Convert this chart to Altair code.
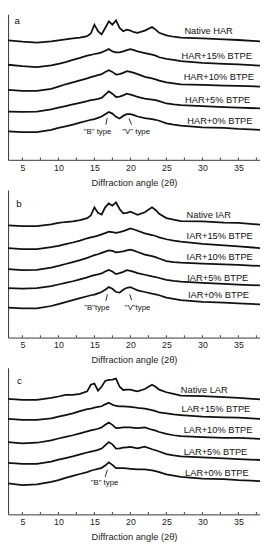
import altair as alt
import pandas as pd

THETA = [3, 5, 7, 9, 10, 11, 12, 13, 14, 14.5, 15, 15.5, 16, 16.5, 17, 17.5, 18, 18.5, 19,
         19.5, 20, 20.5, 21, 22, 23, 23.5, 24, 25, 26, 27, 30, 33, 35, 38]

# Panel a (HAR)
HAR_NATIVE = [367, 363, 360, 364, 367, 370, 373, 375, 380, 388, 415, 395, 385, 405, 425, 415, 428, 405, 395,
              400, 397, 392, 390, 397, 408, 400, 390, 382, 378, 375, 373, 370, 368, 364]
HAR_15 = [292, 288, 285, 290, 295, 300, 307, 313, 320, 322, 325, 327, 330, 335, 340, 333, 330, 330, 333,
          337, 340, 337, 333, 328, 323, 320, 315, 310, 307, 303, 298, 295, 293, 289]
HAR_10 = [215, 212, 212, 218, 225, 232, 238, 244, 250, 254, 257, 260, 263, 270, 275, 270, 262, 263, 267,
          272, 270, 267, 263, 255, 250, 247, 243, 238, 235, 232, 230, 228, 227, 225]
HAR_5 = [148, 147, 148, 155, 160, 165, 170, 175, 180, 183, 185, 187, 190, 200, 210, 203, 193, 194, 198,
         203, 200, 197, 193, 188, 185, 183, 180, 173, 170, 168, 165, 162, 160, 158]
HAR_0 = [87, 85, 85, 92, 98, 103, 108, 114, 120, 123, 125, 129, 133, 140, 147, 142, 132, 127, 135,
         140, 140, 137, 133, 128, 125, 123, 120, 112, 108, 105, 100, 98, 95, 92]

# Panel b (IAR)
IAR_NATIVE = [345, 342, 342, 348, 352, 355, 357, 361, 367, 375, 400, 383, 378, 400, 412, 405, 415, 395, 382,
              383, 387, 382, 377, 385, 400, 392, 380, 367, 362, 358, 357, 353, 352, 347]
IAR_15 = [275, 272, 272, 278, 282, 287, 292, 298, 305, 308, 310, 313, 317, 321, 325, 324, 322, 324, 327,
          331, 335, 332, 328, 320, 315, 312, 308, 302, 298, 295, 288, 283, 280, 275]
IAR_10 = [210, 207, 208, 215, 220, 226, 232, 238, 245, 249, 253, 256, 260, 264, 268, 266, 262, 263, 265,
          268, 270, 267, 263, 255, 250, 247, 243, 235, 232, 230, 227, 225, 223, 220]
IAR_5 = [152, 150, 152, 158, 163, 168, 173, 179, 185, 189, 192, 194, 197, 203, 208, 203, 195, 198, 202,
         207, 205, 202, 198, 193, 188, 186, 183, 177, 174, 172, 168, 165, 163, 160]
IAR_0 = [92, 90, 90, 97, 103, 109, 115, 121, 127, 130, 132, 136, 140, 147, 155, 150, 140, 138, 147,
         153, 155, 150, 145, 140, 135, 133, 130, 123, 119, 115, 110, 107, 105, 102]

# Panel c (LAR)
LAR_NATIVE = [355, 352, 352, 358, 362, 367, 367, 370, 378, 398, 402, 380, 392, 410, 413, 414, 417, 392, 382,
              383, 383, 380, 378, 385, 398, 392, 383, 375, 370, 365, 363, 360, 358, 353]
LAR_15 = [293, 290, 290, 295, 300, 305, 310, 317, 323, 325, 328, 330, 332, 338, 343, 337, 333, 332, 332,
          331, 330, 329, 327, 325, 320, 317, 313, 310, 307, 305, 300, 298, 297, 293]
LAR_10 = [222, 218, 220, 227, 233, 238, 243, 249, 255, 258, 260, 263, 267, 275, 282, 275, 265, 266, 267,
          267, 267, 266, 265, 267, 260, 257, 253, 247, 243, 240, 237, 235, 235, 232]
LAR_5 = [158, 155, 155, 162, 168, 173, 178, 184, 190, 193, 195, 198, 202, 212, 222, 215, 202, 203, 205,
         206, 207, 205, 203, 208, 200, 197, 193, 185, 181, 178, 175, 172, 170, 167]
LAR_0 = [95, 90, 92, 100, 105, 112, 118, 124, 130, 134, 137, 140, 143, 150, 160, 152, 142, 142, 142,
         141, 140, 139, 138, 138, 135, 133, 130, 123, 119, 115, 110, 108, 105, 102]

TICK_LABELS = [5, 10, 15, 20, 25, 30, 35]
TICK_MARKS = [5, 7.5, 10, 12.5, 15, 17.5, 20, 22.5, 25, 27.5, 30, 32.5, 35, 37.5]

HAR_NAMES = ["Native HAR", "HAR+15% BTPE", "HAR+10% BTPE", "HAR+5% BTPE", "HAR+0% BTPE"]
HAR_LAB_X = [27.5, 27.1, 27.4, 27.6, 27.9]
HAR_LAB_Y = [395, 320, 253, 185, 120]

IAR_NAMES = ["Native IAR", "IAR+15% BTPE", "IAR+10% BTPE", "IAR+5% BTPE", "IAR+0% BTPE"]
IAR_LAB_X = [27.8, 27.8, 27.8, 27.9, 28.0]
IAR_LAB_Y = [375, 312, 247, 183, 130]

LAR_NAMES = ["Native LAR", "LAR+15% BTPE", "LAR+10% BTPE", "LAR+5% BTPE", "LAR+0% BTPE"]
LAR_LAB_X = [27.0, 27.1, 27.4, 27.4, 27.6]
LAR_LAB_Y = [382, 323, 258, 190, 128]

FONT = "Liberation Sans"
INK = "#111111"


def panel(curves, names, lab_x, lab_y, ann, arrows, letter, letter_xy, h, ymax):
    rows = []
    for name, vals in zip(names, curves):
        for t, v in zip(THETA, vals):
            rows.append({"s": name, "x": t, "y": v})
    df = pd.DataFrame(rows)
    labs = pd.DataFrame({"t": names, "x": lab_x, "y": lab_y})
    anns = pd.DataFrame(ann, columns=["t", "x", "y"])
    arr = pd.DataFrame(arrows, columns=["x", "y", "x2", "y2"])
    ticks = pd.DataFrame({"x": TICK_MARKS, "y": [0] * len(TICK_MARKS), "y2": [7] * len(TICK_MARKS)})
    let = pd.DataFrame({"t": [letter], "x": [letter_xy[0]], "y": [letter_xy[1]]})

    xs = alt.Scale(domain=[3, 38], nice=False, zero=False)
    ys = alt.Scale(domain=[0, ymax], nice=False, zero=True)
    xenc = alt.X("x:Q", scale=xs, axis=alt.Axis(
        values=TICK_LABELS, title="Diffraction angle (2θ)", tickSize=0, labelPadding=3.5,
        titlePadding=5.5, grid=False, domainColor="#333", domainWidth=1, labelFontSize=9,
        titleFontSize=9.5, labelColor="#222", titleColor="#222", titleFontWeight="normal",
        labelFont=FONT, titleFont=FONT))
    yenc = alt.Y("y:Q", scale=ys, axis=alt.Axis(labels=False, ticks=False, title=None, grid=False,
                                                 domainColor="#444", domainWidth=1.2))

    lines = alt.Chart(df).mark_line(color=INK, strokeWidth=1.8, clip=True).encode(
        x=xenc, y=yenc, detail="s:N")
    labels = alt.Chart(labs).mark_text(align="left", baseline="middle", fontSize=9.5, font=FONT,
                                       color=INK).encode(x=xenc, y=yenc, text="t:N")
    annt = alt.Chart(anns).mark_text(align="center", baseline="middle", fontSize=8, font=FONT,
                                     color=INK).encode(x=xenc, y=yenc, text="t:N")
    arrl = alt.Chart(arr).mark_rule(color=INK, strokeWidth=0.9).encode(
        x=xenc, y=yenc, x2="x2:Q", y2="y2:Q")
    tk = alt.Chart(ticks).mark_rule(color="#333", strokeWidth=1).encode(x=xenc, y=yenc, y2="y2:Q")
    lt = alt.Chart(let).mark_text(align="left", baseline="middle", fontSize=10, font=FONT,
                                  color=INK).encode(x=xenc, y=yenc, text="t:N")
    return alt.layer(lines, tk, labels, annt, arrl, lt).properties(width=258, height=h)


pa = panel([HAR_NATIVE, HAR_15, HAR_10, HAR_5, HAR_0], HAR_NAMES, HAR_LAB_X, HAR_LAB_Y,
           [['"B" type', 15.44, 85], ['"V" type', 20.8, 85]],
           [[16.6, 108, 16.78, 128], [20.16, 108, 19.8, 127]],
           "a", (3.9, 426), 149, 447)
pb = panel([IAR_NATIVE, IAR_15, IAR_10, IAR_5, IAR_0], IAR_NAMES, IAR_LAB_X, IAR_LAB_Y,
           [['"B"type', 15.36, 90], ['"V"type', 21.0, 90]],
           [[16.6, 113, 16.8, 133], [20.16, 115, 19.9, 133]],
           "b", (4.16, 410), 151, 453)
pc = panel([LAR_NATIVE, LAR_15, LAR_10, LAR_5, LAR_0], LAR_NAMES, LAR_LAB_X, LAR_LAB_Y,
           [['"B" type', 16.4, 95]],
           [[16.5, 115, 16.8, 137]],
           "c", (4.25, 408), 150, 450)

chart = alt.vconcat(pa, pb, pc, spacing=3).properties(padding=0).configure_view(stroke=None)

chart.save("out.html", embed_options={"renderer": "svg", "actions": False})
